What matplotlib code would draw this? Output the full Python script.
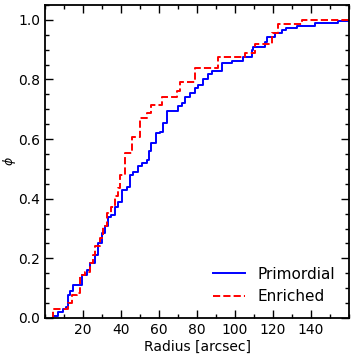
import matplotlib
matplotlib.use("Agg")
import matplotlib.pyplot as plt
from matplotlib.ticker import MultipleLocator, FixedLocator

# Primordial (blue, solid) step CDF: radius [arcsec], phi
prim_r = [3.5, 4.3, 7, 9.6, 11, 12, 13, 14.7, 19.3, 22, 23.7, 26.4, 28, 30, 31.6, 33, 35,
          36.8, 38.4, 40.5, 43, 44.7, 46.3, 49, 51, 53.7, 55, 56, 58.4, 60.5, 62, 64,
          70, 72, 73.7, 76.3, 79, 80.5, 83, 86, 88, 93, 98.4, 104, 109, 109.5, 116, 117,
          121, 124.7, 127, 132.6, 142, 154, 160]
prim_phi = [0.0, 0.005, 0.02, 0.03, 0.035, 0.077, 0.09, 0.11, 0.144, 0.16, 0.184, 0.21,
            0.25, 0.285, 0.31, 0.34, 0.345, 0.373, 0.39, 0.43, 0.44, 0.48, 0.49, 0.51,
            0.52, 0.53, 0.56, 0.587, 0.62, 0.625, 0.654, 0.695, 0.71, 0.72, 0.74, 0.755,
            0.77, 0.78, 0.80, 0.82, 0.83, 0.855, 0.862, 0.876, 0.90, 0.91, 0.926, 0.943,
            0.956, 0.966, 0.973, 0.98, 0.99, 0.996, 0.996]

# Enriched (red, dashed) step CDF
enr_r = [3.6, 4.3, 12, 14, 16.6, 18.4, 21, 23.7, 25.4, 26.4, 29, 30.7, 32.6, 35, 36.8,
         38.4, 39.5, 42, 45.6, 50, 53.6, 56, 61.5, 69.5, 71, 79, 91, 105, 110.5, 119.5,
         122.6, 135, 160]
enr_phi = [0.0, 0.03, 0.05, 0.077, 0.084, 0.144, 0.155, 0.184, 0.21, 0.24, 0.268, 0.31,
           0.352, 0.373, 0.41, 0.436, 0.48, 0.553, 0.607, 0.67, 0.688, 0.715, 0.742,
           0.76, 0.79, 0.84, 0.875, 0.89, 0.92, 0.956, 0.986, 1.0, 1.0]

xticks = [20, 40, 60, 80, 100, 120, 140]
yticks = [0.0, 0.2, 0.4, 0.6, 0.8, 1.0]

fig = plt.figure(figsize=(3.54, 3.56), dpi=100)
ax = fig.add_axes([0.127, 0.107, 0.859, 0.879])

ax.step(prim_r, prim_phi, where='post', color=(0, 0, 1), lw=1.4, label='Primordial')
ax.step(enr_r, enr_phi, where='post', color=(1, 0, 0), lw=1.4, ls='--', label='Enriched')

ax.set_xlim(0, 160)
ax.set_ylim(0, 1.05)
ax.xaxis.set_major_locator(FixedLocator(xticks))
ax.xaxis.set_minor_locator(MultipleLocator(10))
ax.yaxis.set_major_locator(FixedLocator(yticks))
ax.yaxis.set_minor_locator(MultipleLocator(0.05))
ax.set_yticklabels([f"{v:.1f}" for v in yticks])
ax.tick_params(which='both', direction='in', top=True, right=True, labelsize=10)
ax.tick_params(which='major', length=6, width=1)
ax.tick_params(which='minor', length=3, width=1)
for s in ax.spines.values():
    s.set_linewidth(1.3)

ax.set_xlabel('Radius [arcsec]', fontsize=10, labelpad=2)
ax.set_ylabel(r'$\phi$', fontsize=9, labelpad=0)

ax.legend(loc='lower right', frameon=False, fontsize=11, handlelength=2.1,
          bbox_to_anchor=(1.0, 0.0))

fig.savefig('out.png', dpi=100)
